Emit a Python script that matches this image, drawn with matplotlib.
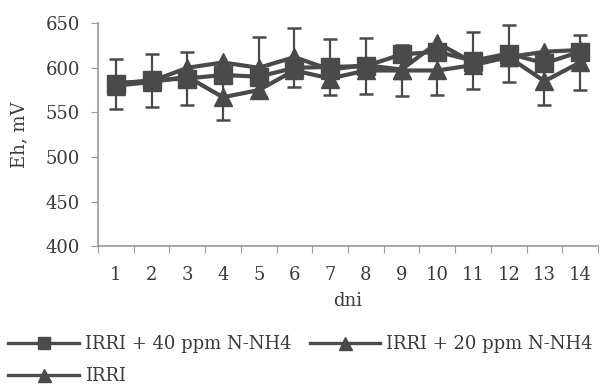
import matplotlib
matplotlib.use("Agg")
import matplotlib.pyplot as plt
import numpy as np

days = list(range(1, 15))
day_labels = [str(d) for d in days]

# Eh values (mV)
eh_40ppm = [582, 586, 588, 592, 590, 600, 601, 602, 615, 618, 608, 616, 605, 618]
eh_20ppm = [583, 585, 600, 606, 600, 612, 598, 603, 598, 628, 606, 612, 618, 620]
eh_irri = [580, 584, 590, 567, 575, 597, 588, 597, 597, 597, 603, 612, 585, 606]

nan = np.nan
err_40ppm = [28, 30, 30, nan, nan, nan, 31, 31, nan, nan, 32, 32, nan, nan]
err_20ppm = [nan, nan, nan, nan, 34, 33, nan, nan, nan, nan, nan, nan, nan, nan]
err_irri = [nan, nan, nan, 26, nan, nan, nan, nan, 29, 27, nan, nan, 27, 31]

labels = ["IRRI + 40 ppm N-NH4", "IRRI + 20 ppm N-NH4", "IRRI"]

plt.rcParams['font.family'] = ['DejaVu Serif']
col = "#4a4a4a"
txt = "#3a3a3a"
fs = 13

fig = plt.figure(figsize=(6.01, 3.87), dpi=100)
ax = fig.add_axes([0.163, 0.364, 0.832, 0.576])

series = [(eh_40ppm, err_40ppm, "s", 12.5), (eh_20ppm, err_20ppm, "^", 13), (eh_irri, err_irri, "^", 13)]
handles = []
for (vals, errs, mk, ms), lab in zip(series, labels):
    ax.errorbar(days, vals, yerr=np.array(errs, dtype=float), fmt="none",
                ecolor=col, elinewidth=1.6, capsize=5, capthick=1.8, zorder=2)
    h, = ax.plot(days, vals, color=col, lw=3, marker=mk, ms=ms,
                 mfc=col, mec=col, label=lab, zorder=3)
    handles.append(h)

ax.set_xlim(0.5, 14.5)
ax.set_ylim(400, 650)
ax.set_yticks(range(400, 651, 50))
ax.set_xticks(np.arange(0.5, 15, 1))
ax.set_xticklabels([])
ax.set_xticks(days, minor=True)
ax.set_xticklabels(day_labels, minor=True)
ax.tick_params(axis="x", which="minor", length=0, pad=14, labelsize=fs, colors=txt)
ax.tick_params(axis="x", which="major", length=5, direction="out", color="#999999")
ax.tick_params(axis="y", length=5, direction="out", color="#999999", labelsize=fs,
               colors=txt, pad=8)
for s in ["top", "right"]:
    ax.spines[s].set_visible(False)
for s in ["left", "bottom"]:
    ax.spines[s].set_color("#999999")
    ax.spines[s].set_linewidth(1.2)

ax.set_xlabel("dni", fontsize=fs, color=txt, labelpad=6)
ax.set_ylabel("Eh, mV", fontsize=fs, color=txt, labelpad=12)

# reorder so the legend fills row by row
order = [0, 2, 1]
leg = fig.legend(handles=[handles[i] for i in order], labels=[labels[i] for i in order],
                 loc="lower left", ncol=2, bbox_to_anchor=(0.008, -0.005), frameon=False,
                 fontsize=fs, handlelength=3.9, handletextpad=0.35, columnspacing=1.0,
                 labelspacing=0.8, labelcolor=txt, markerscale=0.72,
                 borderaxespad=0.0, borderpad=0.2)
for line in leg.get_lines():
    line.set_linewidth(2.4)

fig.savefig("out.png", dpi=100)
